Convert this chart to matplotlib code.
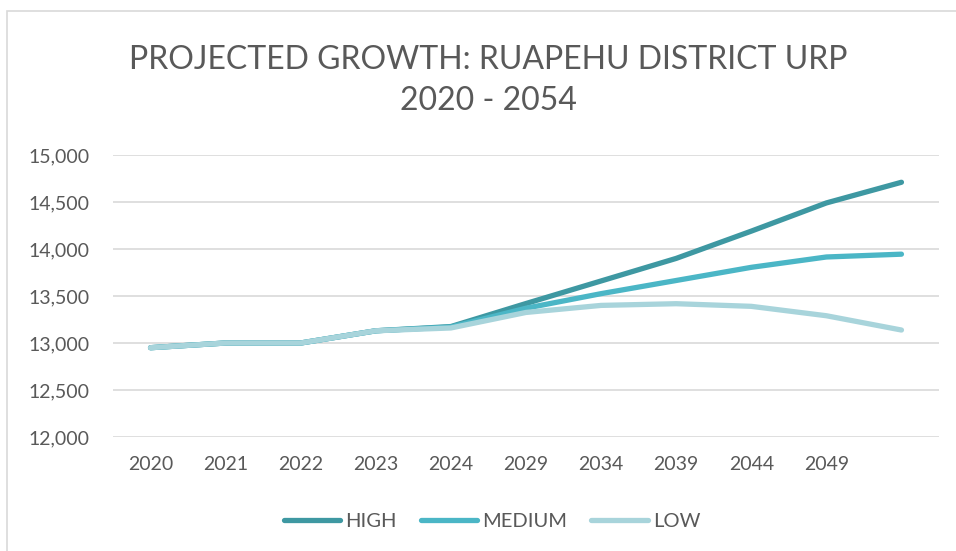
import matplotlib.pyplot as plt
from matplotlib.patches import Rectangle

# ─── Data ─────────────────────────────────────────────
years = ['2020', '2021', '2022', '2023', '2024', '2029', '2034', '2039', '2044', '2049', '']
high = [12950, 13000, 13000, 13130, 13175, 13420, 13660, 13900, 14190, 14490, 14710]
medium = [12950, 13000, 13000, 13130, 13170, 13370, 13525, 13665, 13805, 13915, 13945]
low = [12950, 13000, 13000, 13130, 13160, 13325, 13400, 13418, 13390, 13290, 13138]

series_names = ['HIGH', 'MEDIUM', 'LOW']
series_colors = ['#3E98A2', '#4BB6C6', '#A8D4DB']

plt.rcParams['font.family'] = ['Lato', 'DejaVu Sans']
text_col = '#595959'

fig = plt.figure(figsize=(9.56, 5.51), dpi=100)
W, H = 956, 551
ax = fig.add_axes([113 / W, 114 / H, (939 - 113) / W, (437 - 155) / H])

# bingkai chart
fig.patches.append(Rectangle((7 / W, -0.05), 1.1, (551 - 11) / H + 0.05,
                             transform=fig.transFigure, fill=False,
                             edgecolor='#D9D9D9', linewidth=1.2))

x = list(range(len(years)))
for vals, name, c in zip([high, medium, low], series_names, series_colors):
    ax.plot(x, vals, color=c, lw=3.8, solid_capstyle='round',
            solid_joinstyle='round', label=name)

ax.set_xlim(-0.5, len(years) - 0.5)
ax.set_ylim(12000, 15000)
ax.set_yticks(range(12000, 15001, 500))
ax.set_yticklabels([f'{v:,}' for v in range(12000, 15001, 500)])
ax.set_xticks(x)
ax.set_xticklabels(years)
ax.grid(axis='y', color='#D9D9D9', lw=1.2)
ax.set_axisbelow(True)
for s in ax.spines.values():
    s.set_visible(False)
ax.tick_params(axis='both', length=0, labelsize=14, colors=text_col)
ax.tick_params(axis='y', pad=17)
ax.tick_params(axis='x', pad=14)

fig.text(488 / W, 1 - 60 / H, 'PROJECTED GROWTH: RUAPEHU DISTRICT URP',
         ha='center', va='center', fontsize=23, color=text_col)
fig.text(488 / W, 1 - 101 / H, '2020 - 2054',
         ha='center', va='center', fontsize=23, color=text_col)

fig.legend(loc='center', bbox_to_anchor=(492 / W, 1 - 521 / H), ncol=3,
           frameon=False, fontsize=14.5, labelcolor=text_col,
           handlelength=2.8, handletextpad=0.25, columnspacing=1.2)

fig.savefig('out.png', dpi=100)
